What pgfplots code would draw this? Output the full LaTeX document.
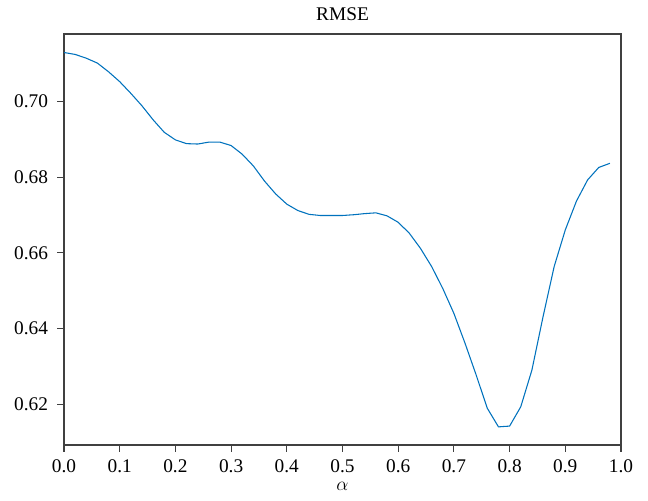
\documentclass[border=0pt]{standalone}
\usepackage{fontspec}
\setmainfont{Liberation Serif}
\usepackage{pgfplots}
\pgfplotsset{compat=1.18}
\definecolor{lineblue}{RGB}{0,114,189}
\begin{document}
\fontsize{14.5}{17}\selectfont
\begin{tikzpicture}
\useasboundingbox (-48pt,-41.25pt) rectangle (438pt,333.75pt);
\begin{axis}[
  at={(0,0)}, anchor=south west,
  scale only axis,
  width=417.75pt, height=308.25pt,
  xmin=0, xmax=1, ymin=0.6092, ymax=0.7179,
  xtick={0,0.1,...,1.0},
  ytick={0.62,0.64,0.66,0.68,0.70},
  xticklabel style={yshift=-1pt, /pgf/number format/.cd, fixed, fixed zerofill, precision=1},
  yticklabel style={xshift=-2pt, /pgf/number format/.cd, fixed, fixed zerofill, precision=2},
  /pgf/number format/assume math mode=true,
  tick align=outside,
  xtick pos=left, ytick pos=left,
  major tick length=5pt,
  axis line style={black!75, line width=0.8pt},
  tick style={black!75, line width=0.8pt},
  title={RMSE},
  title style={yshift=-1pt},
  xlabel={$\alpha$},
  xlabel style={yshift=3pt},
  ticklabel style={font=\fontsize{14.5}{17}\selectfont},
  label style={font=\fontsize{14.5}{17}\selectfont},
]
\addplot[color=lineblue, line width=0.8pt] coordinates {
(0.00,0.7130) (0.02,0.7125) (0.04,0.7115) (0.06,0.7102) (0.08,0.7079)
(0.10,0.7053) (0.12,0.7022) (0.14,0.6989) (0.16,0.6952) (0.18,0.6919)
(0.20,0.6899) (0.22,0.6889) (0.24,0.6888) (0.26,0.6893) (0.28,0.6893)
(0.30,0.6884) (0.32,0.6861) (0.34,0.6830) (0.36,0.6790) (0.38,0.6756)
(0.40,0.6729) (0.42,0.6712) (0.44,0.6702) (0.46,0.6699) (0.48,0.6699)
(0.50,0.6699) (0.52,0.6701) (0.54,0.6704) (0.56,0.6706) (0.58,0.6698)
(0.60,0.6681) (0.62,0.6652) (0.64,0.6612) (0.66,0.6564) (0.68,0.6506)
(0.70,0.6440) (0.72,0.6361) (0.74,0.6277) (0.76,0.6189) (0.78,0.6140)
(0.80,0.6142) (0.82,0.6193) (0.84,0.6290) (0.86,0.6431) (0.88,0.6564)
(0.90,0.6661) (0.92,0.6737) (0.94,0.6793) (0.96,0.6826) (0.98,0.6837)
};
\end{axis}
\end{tikzpicture}
\end{document}
